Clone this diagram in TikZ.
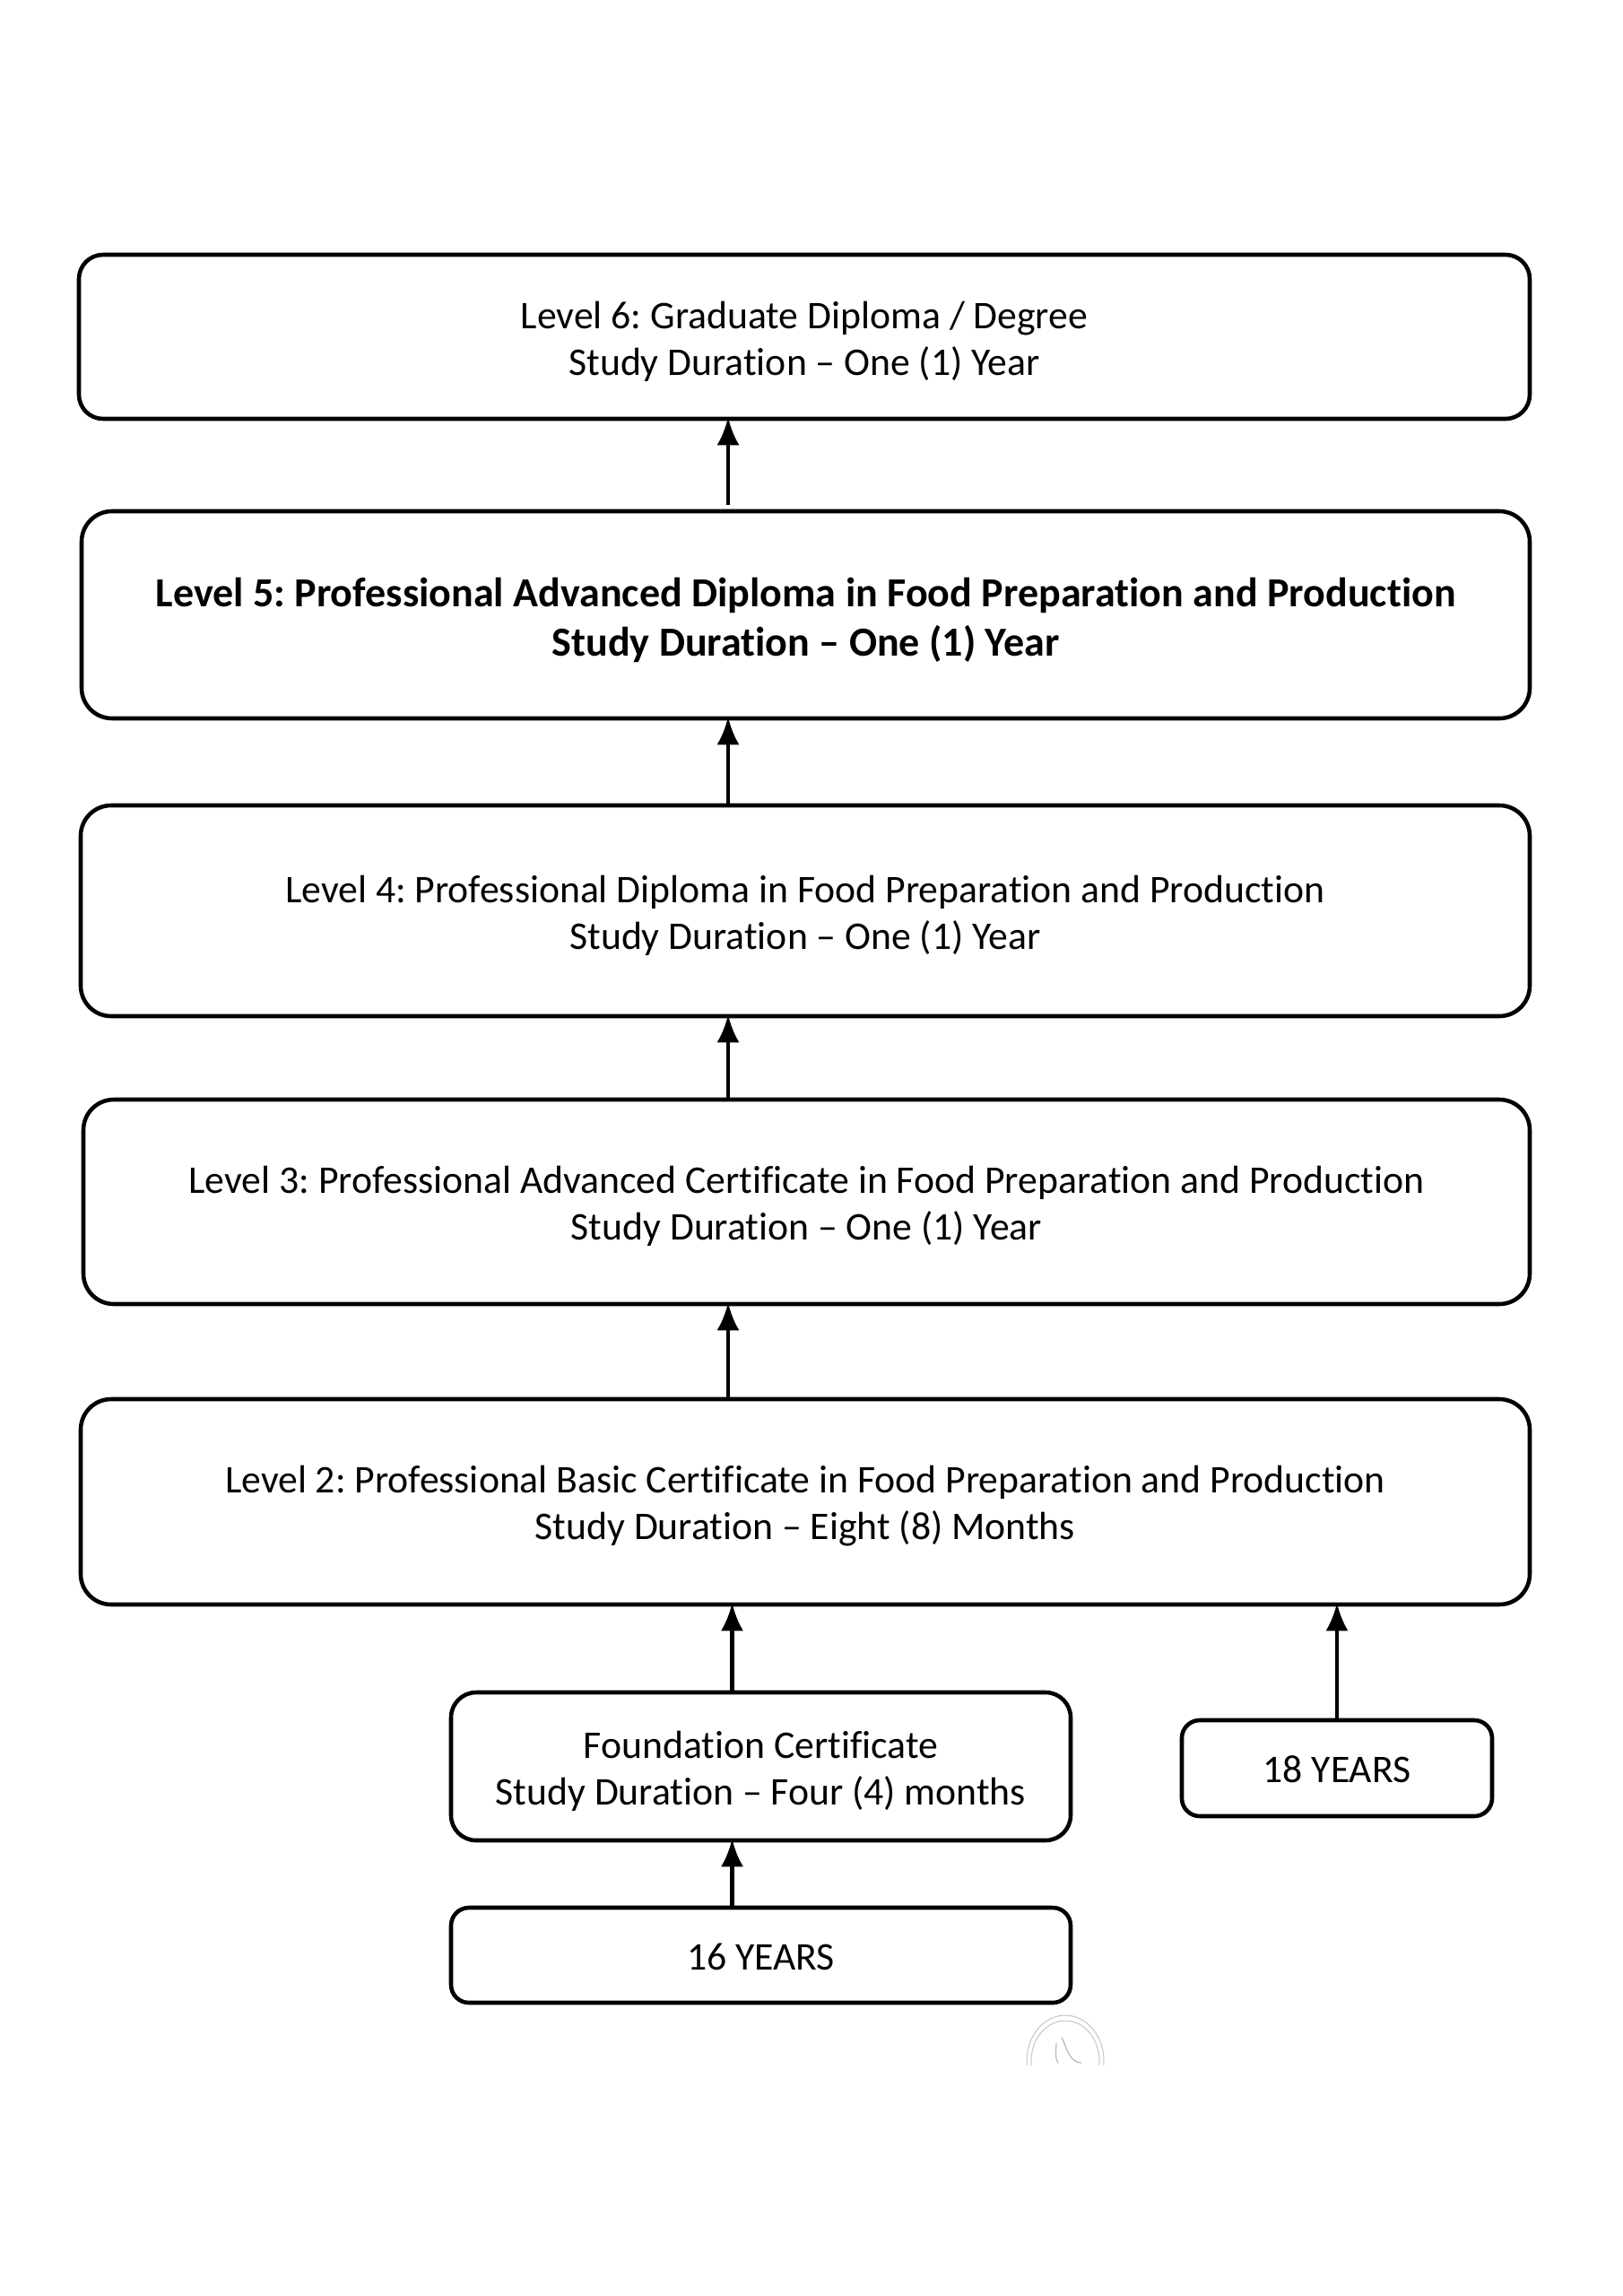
\documentclass[tikz,border=0pt]{standalone}
\usepackage{fontspec}
\setmainfont[Ligatures={NoCommon}]{Carlito}
\frenchspacing
\usetikzlibrary{arrows.meta}
\tikzset{
    plainbox/.style={draw,line width=1.3pt,rounded corners=0.34cm,align=center,font=\fontsize{12.43}{14.8}\selectfont,inner sep=0pt},
    levelbox/.style={plainbox,execute at begin node={\rule{0pt}{26.3pt}}},
    boldbox/.style={plainbox,font=\fontsize{13.1}{15.8}\selectfont\bfseries,execute at begin node={\rule{0pt}{28.4pt}}},
    agebox/.style={plainbox,rounded corners=0.2cm,execute at begin node={\rule{0pt}{9.2pt}}},
    flow/.style={line width=1.25pt,shorten >=-0.04cm,-{Latex[length=0.31cm,width=0.25cm]}},
}
\begin{document}
\begin{tikzpicture}

    \useasboundingbox (0,0) rectangle (18.10,-25.60);

    % top level
    \node[levelbox,rounded corners=0.27cm,minimum width=16.18cm,minimum height=1.83cm] (levelsix) at (8.97,-3.755) {Level 6: Graduate Diploma / Degree\\Study Duration -- One (1) Year};

    % bold level
    \node[boldbox,minimum width=16.15cm,minimum height=2.31cm] (levelfive) at (8.985,-6.855) {Level 5: Professional Advanced Diploma in Food Preparation and Production\\Study Duration -- One (1) Year};

    % diploma
    \node[levelbox,minimum width=16.16cm,minimum height=2.35cm] (levelfour) at (8.98,-10.155) {Level 4: Professional Diploma in Food Preparation and Production\\Study Duration -- One (1) Year};

    % advanced certificate
    \node[levelbox,minimum width=16.13cm,minimum height=2.28cm] (levelthree) at (8.995,-13.40) {Level 3: Professional Advanced Certificate in Food Preparation and Production\\Study Duration -- One (1) Year};

    % basic certificate
    \node[levelbox,minimum width=16.16cm,minimum height=2.29cm] (leveltwo) at (8.98,-16.745) {Level 2: Professional Basic Certificate in Food Preparation and Production\\Study Duration -- Eight (8) Months};

    % entry boxes
    \node[levelbox,rounded corners=0.28cm,minimum width=6.91cm,minimum height=1.65cm] (foundation) at (8.485,-19.695) {Foundation Certificate\\Study Duration -- Four (4) months};
    \node[agebox,minimum width=6.91cm,minimum height=1.06cm] (sixteen) at (8.485,-21.80) {16 YEARS};
    \node[agebox,minimum width=3.46cm,minimum height=1.07cm] (eighteen) at (14.91,-19.715) {18 YEARS};

    % arrow columns
    \coordinate (colmain) at (8.12,0);
    \coordinate (colentry) at (8.165,0);

    \draw[flow] ([yshift=0.05cm]levelfive.north -| colmain) to (levelsix.south -| colmain);
    \draw[flow] (levelfour.north -| colmain) to (levelfive.south -| colmain);
    \draw[flow] (levelthree.north -| colmain) to (levelfour.south -| colmain);
    \draw[flow] (leveltwo.north -| colmain) to (levelthree.south -| colmain);
    \draw[flow] (foundation.north -| colentry) to (leveltwo.south -| colentry);
    \draw[flow] (sixteen.north -| colentry) to (foundation.south -| colentry);
    \draw[flow] (eighteen.north) to (leveltwo.south -| eighteen.north);

    % faint stamp cut off at its lower edge
    \begin{scope}
        \clip (11.3,-22.40) rectangle (12.45,-23.02);
        \draw[black!22,line width=0.3pt] (11.88,-22.98) ellipse (0.43cm and 0.51cm);
        \draw[black!22,line width=0.3pt] (11.88,-22.98) ellipse (0.38cm and 0.45cm);
        \draw[black!28,line width=0.35pt] (11.84,-22.72) to[out=-60,in=120] (11.92,-22.90) to[out=-60,in=180] (12.06,-23.0);
        \draw[black!28,line width=0.35pt] (11.78,-22.78) to[out=-90,in=120] (11.80,-23.0);
    \end{scope}

\end{tikzpicture}
\end{document}
